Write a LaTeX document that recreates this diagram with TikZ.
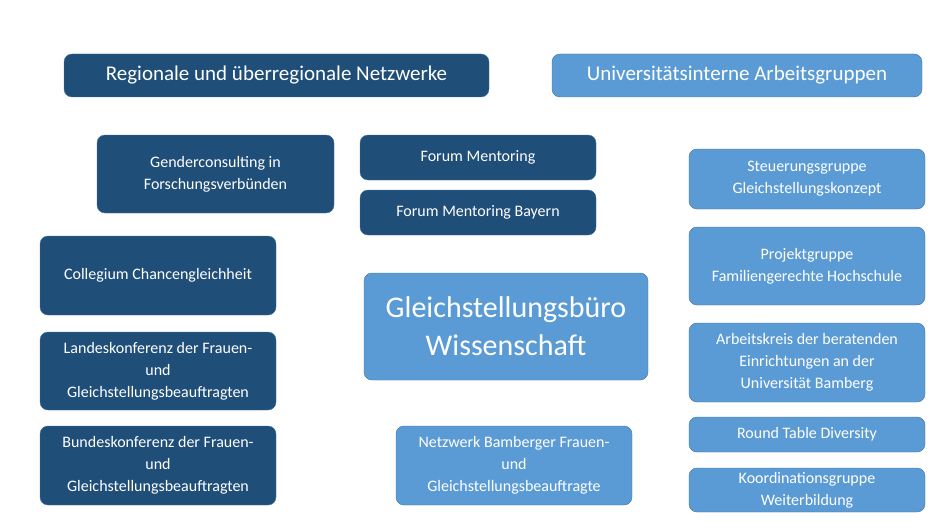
\documentclass[tikz,border=0pt]{standalone}
\usepackage{fontspec}
\setmainfont{Carlito}
\usetikzlibrary{positioning}
\definecolor{darkbox}{RGB}{31,78,121}
\definecolor{lightbox}{RGB}{91,155,213}
\definecolor{edgeblue}{RGB}{65,113,156}
\tikzset{
    darknode/.style={draw=edgeblue, fill=darkbox, text=white, rounded corners=8pt,
        align=center, inner sep=2pt, font=\fontsize{16}{22}\selectfont},
    lightnode/.style={draw=edgeblue, fill=lightbox, text=white, rounded corners=8pt,
        align=center, inner sep=2pt, font=\fontsize{16}{22}\selectfont}
}
\newcommand{\boxat}[6]{% style, name, x1, y1, x2, y2
    \node[#1, minimum width={(#5-#3)*1pt}, minimum height={(#6-#4)*1pt}] (#2) at ({(#3+#5)/2},{(#4+#6)/2})}
\begin{document}
\begin{tikzpicture}[x=1pt, y=-1pt]
    \useasboundingbox (0,0) rectangle (947,532);

    % Headings
    \boxat{darknode, font=\fontsize{21}{26}\selectfont}{regional}{64}{54}{489}{97} {Regionale und überregionale Netzwerke};
    \boxat{lightnode, font=\fontsize{21}{26}\selectfont}{intern}{552}{54}{922}{97} {Universitätsinterne Arbeitsgruppen};

    % Networks
    \boxat{darknode}{gender}{97}{135}{334}{213} {Genderconsulting in\\Forschungsverbünden};
    \boxat{darknode}{forum}{360}{135}{596}{180} {Forum Mentoring};
    \boxat{darknode}{forumby}{360}{190}{596}{235} {Forum Mentoring Bayern};
    \boxat{darknode}{collegium}{40}{236}{276}{315} {Collegium Chancengleichheit};
    \boxat{darknode}{landes}{40}{332}{276}{410} {Landeskonferenz der Frauen-\\und\\Gleichstellungsbeauftragten};
    \boxat{darknode}{bundes}{40}{426}{276}{505} {Bundeskonferenz der Frauen-\\und\\Gleichstellungsbeauftragten};

    % Centre
    \boxat{lightnode, font=\fontsize{30}{38}\selectfont}{buero}{364}{273}{648}{380} {Gleichstellungsbüro\\Wissenschaft};
    \boxat{lightnode}{netzwerk}{396}{426}{632}{505} {Netzwerk Bamberger Frauen-\\und\\Gleichstellungsbeauftragte};

    % Working groups
    \boxat{lightnode}{steuerung}{689}{149}{925}{209} {Steuerungsgruppe\\Gleichstellungskonzept};
    \boxat{lightnode}{projekt}{689}{227}{925}{305} {Projektgruppe\\Familiengerechte Hochschule};
    \boxat{lightnode}{arbeitskreis}{689}{323}{925}{402} {Arbeitskreis der beratenden\\Einrichtungen an der\\Universität Bamberg};
    \boxat{lightnode}{roundtable}{689}{417}{925}{452} {Round Table Diversity};
    \boxat{lightnode}{koordination}{689}{468}{925}{512} {Koordinationsgruppe\\Weiterbildung};
\end{tikzpicture}
\end{document}
